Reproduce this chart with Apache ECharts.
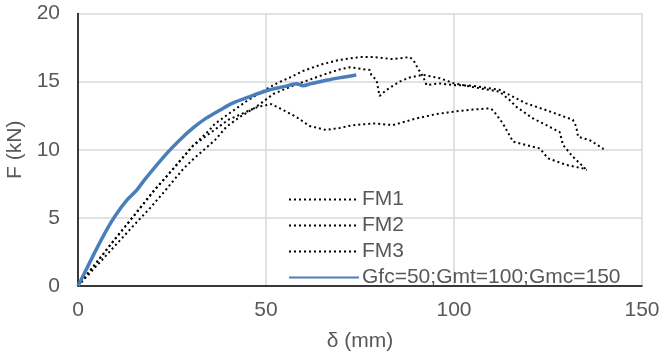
<!DOCTYPE html>
<html>
<head>
<meta charset="utf-8">
<script src="https://cdn.jsdelivr.net/npm/echarts@6/dist/echarts.min.js"></script>
<style>
  html, body { margin: 0; padding: 0; background: #ffffff; }
  #chart { width: 662px; height: 358px; }
</style>
</head>
<body>
<div id="chart"></div>
<script>
// Load–displacement curves: δ (mm) vs F (kN)
const seriesNames = ['FM1', 'FM2', 'FM3', 'Gfc=50;Gmt=100;Gmc=150'];

const fm1 = [
  [0, 0], [5, 1.75], [10, 3.5], [15, 5.2], [20.2, 7.0], [25, 8.5], [30.6, 10.3],
  [35, 11.45], [36.4, 11.9], [40.4, 12.7], [45, 13.6], [49.7, 14.38], [53, 14.9],
  [56.8, 15.36], [60, 15.8], [65.2, 16.3], [69.6, 16.6], [74.9, 16.8], [78.5, 16.8],
  [83.8, 16.65], [88.2, 16.8], [89.2, 16.58], [90.4, 15.97], [91.8, 15.36],
  [92.7, 14.75], [96.2, 14.87], [99.7, 14.75], [105, 14.7], [112.1, 14.4],
  [115.7, 13.89], [119.2, 13.4], [124.6, 12.9], [131.6, 12.2], [132.5, 11.7],
  [133, 10.95], [136.1, 10.7], [139.6, 10.1], [139.6, 9.85]
];

const fm2 = [
  [0, 0], [5, 1.5], [10, 3.0], [15, 4.5], [19.1, 5.7], [23.3, 7.04], [28, 8.6],
  [31, 9.4], [36.4, 10.7], [39.5, 11.69], [43, 12.4], [47.4, 13.15], [52, 14.1],
  [57.6, 14.75], [65.2, 15.5], [69.6, 15.9], [72.3, 16.05], [77.6, 15.85],
  [78, 15.5], [79.4, 15.1], [80.2, 13.94], [82, 14.38], [85.5, 15.0], [88.2, 15.3],
  [91.8, 15.5], [96.2, 15.25], [99.7, 14.9], [105, 14.6], [112.1, 14.26],
  [114.8, 13.65], [116.6, 13.15], [121, 12.3], [124.6, 11.8], [128.1, 11.3],
  [129, 10.35], [131.6, 9.49], [135.3, 8.51]
];

const fm3 = [
  [0, 0], [5, 1.75], [10, 3.5], [15, 5.2], [20.2, 7.0], [25, 8.5], [30.6, 10.3],
  [35, 11.2], [40, 12.2], [45.7, 12.9], [47.9, 13.15], [51.4, 13.35], [54, 13.0],
  [58.1, 12.4], [61.6, 11.74], [66, 11.45], [69.6, 11.6], [73, 11.8], [78.5, 11.93],
  [83.8, 11.81], [90, 12.3], [95, 12.6], [99.7, 12.79], [105, 12.95], [109.5, 13.04],
  [110.4, 12.9], [113, 11.93], [115.7, 10.59], [122.8, 10.1], [125, 9.37],
  [129.9, 8.88], [134.3, 8.63], [135.3, 8.5]
];

const model = [
  [0, 0], [2, 1.1], [4.7, 2.6], [8, 4.3], [10, 5.2], [13, 6.3], [15.5, 7.0],
  [18, 7.9], [23.5, 9.7], [27, 10.7], [30.6, 11.6], [34, 12.3], [37.7, 12.9],
  [41, 13.4], [45.7, 13.9], [51, 14.4], [55, 14.65], [58.1, 14.85], [59.8, 14.7],
  [62, 14.85], [66, 15.1], [70, 15.3], [74, 15.48]
];

const xTicks = { min: 0, max: 150, interval: 50 };
const yTicks = { min: 0, max: 20, interval: 5 };

const textColor = '#595959';
const fontFamily = '"Liberation Sans", Arial, sans-serif';

function dotted(name, data) {
  return {
    name: name,
    type: 'line',
    data: data,
    symbol: 'none',
    showSymbol: false,
    smooth: false,
    lineStyle: { color: '#000000', width: 2, type: [2, 3] },
    itemStyle: { color: '#000000' },
    z: 2
  };
}

const chart = echarts.init(document.getElementById('chart'), null, { renderer: 'canvas' });

chart.setOption({
  animation: false,
  backgroundColor: '#ffffff',
  textStyle: { fontFamily: fontFamily },
  grid: { left: 78, right: 20, top: 13.5, bottom: 72, containLabel: false, outerBoundsMode: 'none' },
  xAxis: {
    type: 'value',
    min: xTicks.min, max: xTicks.max, interval: xTicks.interval,
    name: 'δ (mm)',
    nameLocation: 'middle',
    nameGap: 45,
    nameTextStyle: { color: textColor, fontSize: 21, fontFamily: fontFamily },
    axisLine: { show: true, onZero: false, lineStyle: { color: '#000000', width: 1.5 } },
    axisTick: { show: false },
    axisLabel: { color: textColor, fontSize: 21, margin: 14, fontFamily: fontFamily },
    splitLine: { show: true, lineStyle: { color: '#d9d9d9', width: 1.5 } }
  },
  yAxis: {
    type: 'value',
    min: yTicks.min, max: yTicks.max, interval: yTicks.interval,
    name: 'F (kN)',
    nameLocation: 'middle',
    nameGap: 41,
    nameRotate: 90,
    nameTextStyle: { color: textColor, fontSize: 21, fontFamily: fontFamily },
    axisLine: { show: true, onZero: false, lineStyle: { color: '#000000', width: 1.5 } },
    axisTick: { show: false },
    axisLabel: { color: textColor, fontSize: 21, margin: 18, fontFamily: fontFamily },
    splitLine: { show: true, lineStyle: { color: '#d9d9d9', width: 1.5 } }
  },
  legend: {
    orient: 'vertical',
    left: 283,
    top: 184,
    itemWidth: 70,
    itemHeight: 14,
    itemGap: 5,
    itemStyle: { opacity: 0 },
    backgroundColor: 'transparent',
    textStyle: { color: textColor, fontSize: 21, fontFamily: fontFamily, padding: [0, 0, 0, -2] },
    data: seriesNames.map(n => ({ name: n }))
  },
  series: [
    dotted(seriesNames[0], fm1),
    dotted(seriesNames[1], fm2),
    dotted(seriesNames[2], fm3),
    {
      name: seriesNames[3],
      type: 'line',
      data: model,
      symbol: 'none',
      showSymbol: false,
      smooth: 0.3,
      lineStyle: { color: '#4a7ebb', width: 3.5 },
      itemStyle: { color: '#4a7ebb' },
      z: 3
    }
  ]
});
</script>
</body>
</html>
